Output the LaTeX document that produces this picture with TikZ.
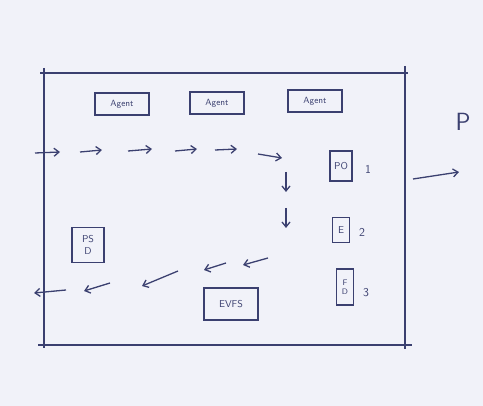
\documentclass[tikz,border=0pt]{standalone}
\usetikzlibrary{arrows.meta}
\definecolor{paper}{HTML}{F1F2F9}
\definecolor{ink}{HTML}{3B4070}
\begin{document}
\begin{tikzpicture}[x=1pt, y=-1pt,
        ink line/.style={draw=ink, line width=1.3pt},
        agentbox/.style={ink line, inner sep=0pt, minimum width=54pt, minimum height=22pt, font=\sffamily\small, text=ink},
        smallbox/.style={ink line, inner sep=1pt, font=\sffamily, text=ink, align=center},
        flow/.style={ink line, -{Straight Barb[length=5pt, width=8pt]}},
        tag/.style={font=\sffamily\large, text=ink}
    ]
        % --- 背景 ---
        \fill[paper] (0,0) rectangle (483,406);
        \useasboundingbox (0,0) rectangle (483,406);

        % --- 外枠 ---
        \draw[ink line] (40,73) -- (408,73);
        \draw[ink line] (44,68) -- (44,348);
        \draw[ink line] (38,345) -- (412,345);
        \draw[ink line] (405,66) -- (405,349);

        % --- エージェント ---
        \node[agentbox] (ag1) at (122,104) {Agent};
        \node[agentbox] (ag2) at (217,103) {Agent};
        \node[agentbox] (ag3) at (315,101) {Agent};

        % --- 右側の箱 ---
        \node[smallbox, minimum width=22pt, minimum height=30pt] (po) at (341,166) {PO};
        \node[tag] (n1) at (368,169) {1};
        \node[smallbox, minimum width=17pt, minimum height=25pt] (e) at (341,230) {E};
        \node[tag] (n2) at (362,232) {2};
        \node[smallbox, minimum width=17pt, minimum height=36pt, font=\sffamily\footnotesize] (fd) at (345,287) {F\\D};
        \node[tag] (n3) at (366,293) {3};

        % --- 左と下の箱 ---
        \node[smallbox, minimum width=32pt, minimum height=35pt] (psd) at (88,245) {PS\\D};
        \node[smallbox, minimum width=54pt, minimum height=32pt] (evfs) at (231,304) {EVFS};

        % --- 流れ ---
        \foreach \xa/\ya/\xb/\yb in {35/153/60/152, 80/152/102/150, 128/151/152/149,
                175/151/197/149, 215/150/237/149, 258/154/282/158,
                286/172/286/192, 286/208/286/228,
                268/258/243/265, 226/263/204/270, 178/271/142/286,
                110/283/84/291, 66/290/34/293}
            \draw[flow] (\xa,\ya) -- (\xb,\yb);

        % --- 出力 ---
        \coordinate (out) at (459,172);
        \draw[flow] (413,179) -- (out);
        \node[font=\sffamily\Huge, text=ink, anchor=west] (p) at (452,122) {P};
    \end{tikzpicture}
\end{document}
